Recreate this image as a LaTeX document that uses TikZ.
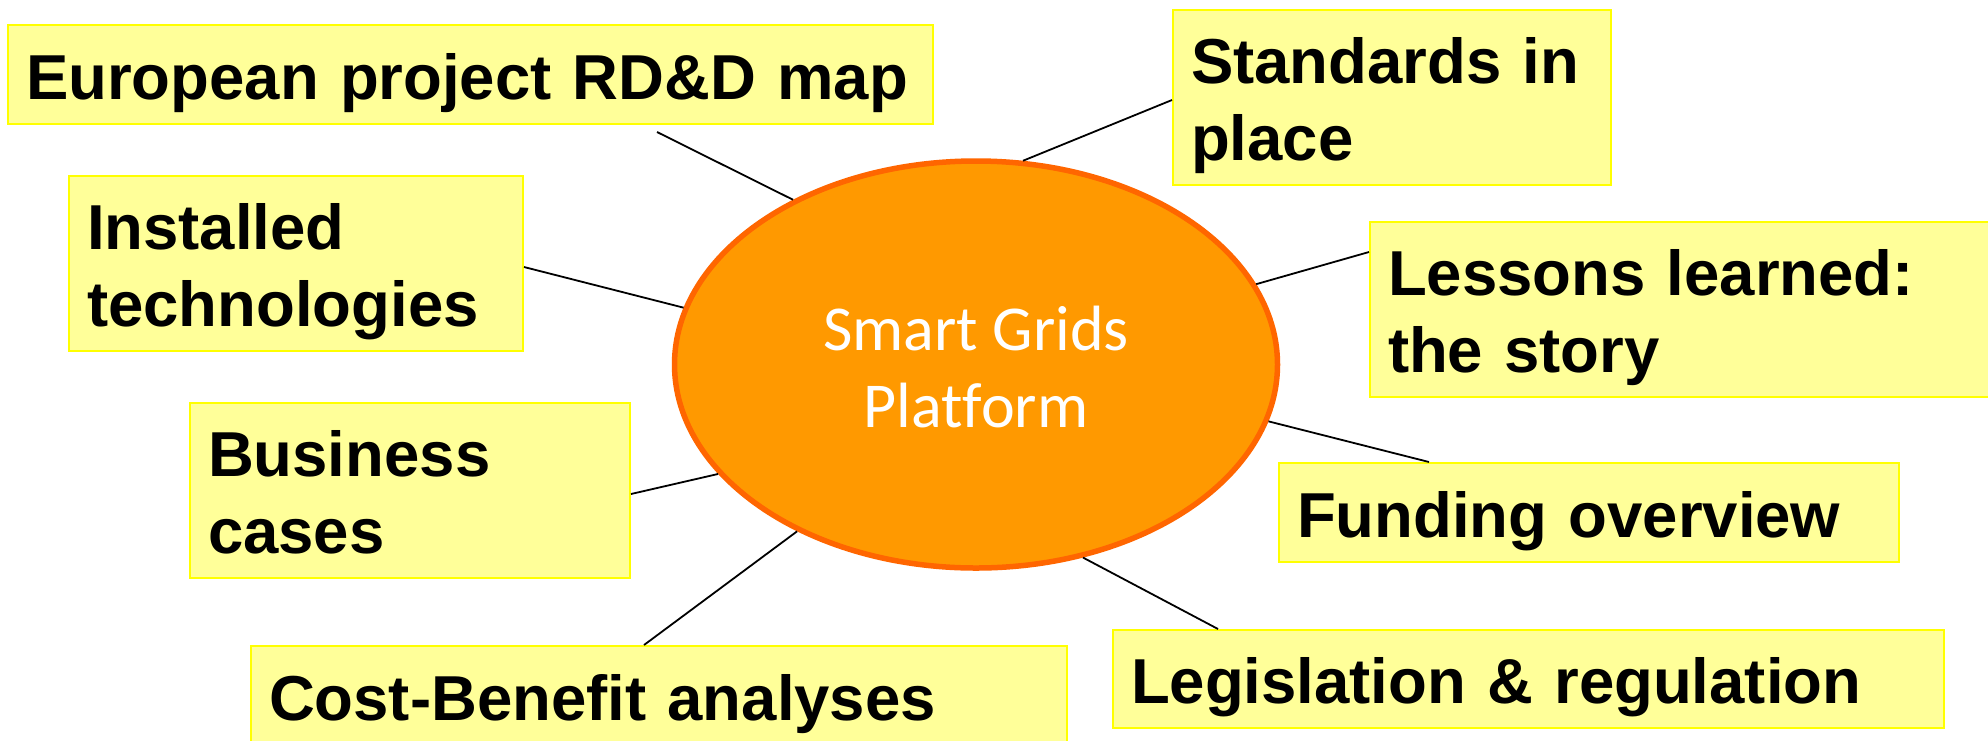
\documentclass[tikz,border=0pt]{standalone}
\usepackage{fontspec}
\setmainfont{Liberation Sans}
\newfontfamily\calibfont[Ligatures=NoCommon]{Carlito}
\usetikzlibrary{shapes.geometric}
\newcommand{\lnst}{\rule[-14pt]{0pt}{77pt}}
\definecolor{boxfill}{HTML}{FFFF99}
\definecolor{boxline}{HTML}{FFFF00}
\definecolor{ellfill}{HTML}{FF9900}
\definecolor{ellline}{HTML}{FF6600}
\begin{document}
\begin{tikzpicture}[x=1pt,y=-1pt,
  topic/.style={draw=boxline, fill=boxfill, line width=2pt, rectangle, anchor=north west,
    inner xsep=18pt, inner ysep=0pt, align=left,
    font=\fontsize{63.5}{77}\selectfont\bfseries},
  hub/.style={ellipse, draw=ellline, fill=ellfill, line width=5.5pt, text=white,
    align=center, inner sep=4pt, font=\calibfont\fontsize{64}{77}\selectfont},
  link/.style={draw=black, line width=1.8pt}]
\useasboundingbox (0,0) rectangle (1988,740);
\clip (0,0) rectangle (1988,740);
\fill[white] (0,0) rectangle (1988,740);

\node[topic, minimum height=99pt, text width=889pt] (eu) at (7,24)
  {\lnst European project RD\&D map};
\node[topic, minimum height=175pt, text width=402pt] (std) at (1172,9)
  {\lnst Standards in\\\lnst place};
\node[topic, minimum height=175pt, text width=418pt] (inst) at (68,175)
  {\lnst Installed\\\lnst technologies};
\node[topic, minimum height=175pt, text width=587pt] (les) at (1369,221)
  {\lnst Lessons learned:\\\lnst the story};
\node[topic, minimum height=175pt, text width=404pt] (bus) at (189,402)
  {\lnst Business\\\lnst cases};
\node[topic, minimum height=99pt, text width=584pt] (fund) at (1278,462)
  {\lnst Funding overview};
\node[topic, minimum height=98pt, text width=795pt] (leg) at (1112,629)
  {\lnst Legislation \& regulation};
\node[topic, minimum height=99pt, text width=780pt] (cost) at (250,645)
  {\lnst Cost-Benefit analyses};

\node[hub, minimum width=603pt, minimum height=407pt] (sg) at (976,364.5)
  {\lnst Smart Grids\\\lnst Platform};

\draw[link] ([xshift=650pt,yshift=-7pt]eu.south west) -- (sg.138.9);
\draw[link] ([yshift=-2.5pt]std.west) -- (sg.77.5);
\draw[link] ([yshift=-3.5pt]inst.east) -- (sg.169.6);
\draw[link] ([yshift=57.5pt]les.west) -- (sg.16.9);
\draw[link] ([yshift=-3.5pt]bus.east) -- (sg.203.9);
\draw[link] ([xshift=-15pt]cost.north) -- (sg.223.6);
\draw[link] ([xshift=-160pt]fund.north) -- (sg.349.6);
\draw[link] ([xshift=-310.5pt]leg.north) -- (sg.299.4);
\end{tikzpicture}
\end{document}
